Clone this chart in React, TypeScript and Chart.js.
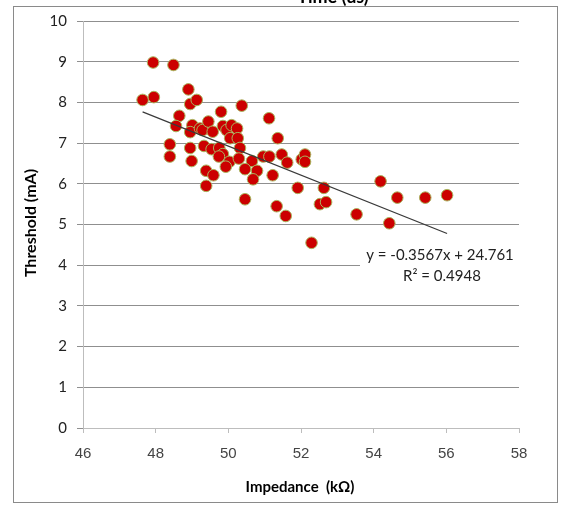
import React, { useEffect, useRef } from "react";
import { Chart, registerables } from "chart.js";

Chart.register(...registerables);

const impedance: number[] = [
  47.64, 47.93, 47.95, 48.49, 48.9, 48.95, 49.13, 49.8, 50.37, 51.12,
  48.65, 48.56, 49.01, 48.95, 49.22, 49.29, 49.45, 49.57, 49.85, 49.95,
  50.09, 50.24, 50.05, 50.26, 51.36, 48.39, 48.95, 49.33, 49.54, 49.75,
  50.32, 49.85, 49.74, 50.03, 49.93, 50.29, 50.65, 50.96, 51.13, 48.39,
  48.99, 50.46, 50.79, 51.22, 49.39, 49.59, 50.68, 49.39, 50.46, 51.33,
  51.47, 51.62, 52.02, 52.11, 52.11, 51.91, 52.63, 54.19, 52.52, 52.69,
  51.58, 53.53, 52.29, 54.65, 55.42, 56.02, 54.43,
];
const threshold: number[] = [
  8.06, 8.98, 8.13, 8.92, 8.32, 7.96, 8.06, 7.77, 7.92, 7.61,
  7.67, 7.42, 7.44, 7.27, 7.36, 7.32, 7.53, 7.28, 7.42, 7.32,
  7.44, 7.36, 7.12, 7.12, 7.12, 6.97, 6.88, 6.93, 6.85, 6.88,
  6.88, 6.73, 6.67, 6.54, 6.42, 6.62, 6.56, 6.67, 6.67, 6.67,
  6.56, 6.36, 6.32, 6.21, 6.32, 6.21, 6.11, 5.95, 5.62, 5.45,
  6.72, 6.52, 6.6, 6.72, 6.54, 5.9, 5.9, 6.06, 5.5, 5.55,
  5.21, 5.25, 4.55, 5.66, 5.66, 5.72, 5.03,
];
const trendSlope = -0.3567;
const trendIntercept = 24.761;
const trendX: number[] = [47.64, 56.02];
const xTicks: number[] = [46, 48, 50, 52, 54, 56, 58];
const yTicks: number[] = [0, 1, 2, 3, 4, 5, 6, 7, 8, 9, 10];
const chartTitle = "Time (us)";
const xTitle = "Impedance  (kΩ)";
const yTitle = "Threshold (mA)";
const eqLine1 = "y = -0.3567x + 24.761";
const eqLine2 = "R² = 0.4948";

const decor = {
  id: "decor",
  beforeDraw(chart: any) {
    const ctx = chart.ctx;
    ctx.save();
    ctx.fillStyle = "#ffffff";
    ctx.fillRect(0, 0, chart.width, chart.height);
    ctx.strokeStyle = "#8a8a8a";
    ctx.lineWidth = 1;
    ctx.strokeRect(13.5, 6.5, 544, 496);
    ctx.fillStyle = "#000000";
    ctx.font = "bold 18px Lato";
    ctx.textAlign = "center";
    ctx.textBaseline = "alphabetic";
    ctx.fillText(chartTitle, 333, 3);
    ctx.restore();
  },
  afterDatasetsDraw(chart: any) {
    const ctx = chart.ctx;
    ctx.save();
    ctx.fillStyle = "#ffffff";
    ctx.fillRect(360, 244, 160, 42);
    ctx.fillStyle = "#222222";
    ctx.font = "15px Lato";
    ctx.textAlign = "center";
    ctx.textBaseline = "middle";
    ctx.fillText(eqLine1, 440, 255);
    ctx.fillText(eqLine2, 442, 276);
    ctx.font = "bold 15px Lato";
    ctx.fillStyle = "#000000";
    ctx.fillText(xTitle, 300, 487);
    ctx.translate(31, 223);
    ctx.rotate(-Math.PI / 2);
    ctx.font = "bold 16px Lato";
    ctx.fillText(yTitle, 0, 0);
    ctx.restore();
  },
};

export default function App() {
  const ref = useRef<HTMLCanvasElement | null>(null);
  useEffect(() => {
    if (!ref.current) return;
    const pts = impedance.map((x, i) => ({ x, y: threshold[i] }));
    const trend = trendX.map((x) => ({ x, y: trendSlope * x + trendIntercept }));
    const chart = new Chart(ref.current, {
      type: "scatter",
      data: {
        datasets: [
          {
            type: "line",
            data: trend,
            borderColor: "#3a3a3a",
            borderWidth: 1.3,
            pointRadius: 0,
            fill: false,
            order: 0,
          } as any,
          {
            data: pts,
            backgroundColor: "#cc0000",
            borderColor: "#a9b45e",
            borderWidth: 1,
            pointRadius: 5.8,
            order: 1,
          },
        ],
      },
      options: {
        responsive: false,
        animation: false,
        layout: { padding: { top: 21, right: 48, left: 0, bottom: 0 } },
        plugins: { legend: { display: false }, tooltip: { enabled: false }, title: { display: false } },
        scales: {
          x: {
            type: "linear",
            min: 46,
            max: 58,
            afterFit: (s: any) => { s.height = 77; },
            afterBuildTicks: (s: any) => { s.ticks = xTicks.map((v) => ({ value: v })); },
            ticks: { font: { family: "Liberation Sans", size: 15 }, color: "#444444", padding: 12 },
            grid: { drawOnChartArea: false, drawTicks: true, tickLength: 5, color: "#bdbdbd" },
            border: { color: "#bdbdbd" },
          },
          y: {
            type: "linear",
            min: 0,
            max: 10,
            afterFit: (s: any) => { s.width = 83; },
            afterBuildTicks: (s: any) => { s.ticks = yTicks.map((v) => ({ value: v })); },
            ticks: { font: { family: "Lato", size: 15 }, color: "#222222", padding: 10 },
            grid: { color: "#8f8f8f", tickLength: 6 },
            border: { color: "#bdbdbd" },
          },
        },
      },
      plugins: [decor],
    });
    return () => chart.destroy();
  }, []);
  return (
    <canvas
      ref={ref}
      width={567}
      height={505}
      style={{ position: "fixed", left: 0, top: 0, width: 567, height: 505 }}
    />
  );
}
